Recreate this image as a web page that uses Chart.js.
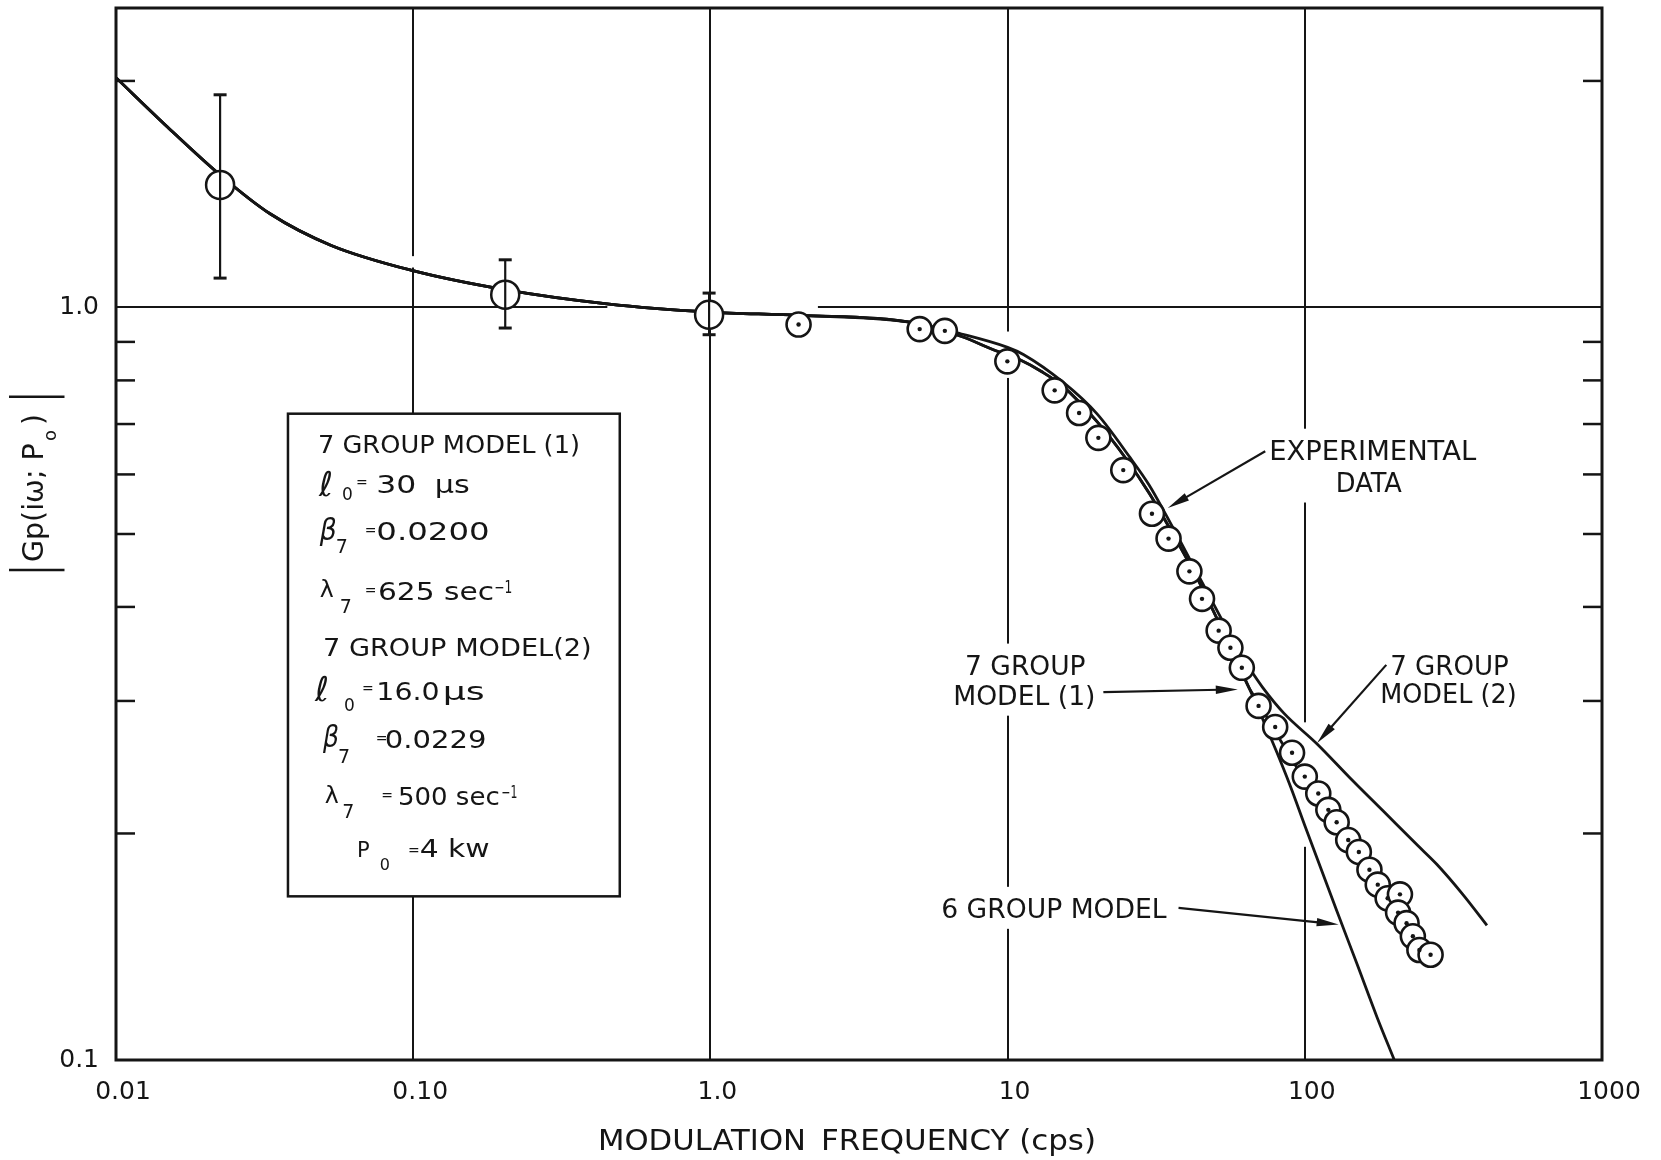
<!DOCTYPE html>
<html>
<head>
<meta charset="utf-8">
<script src="https://cdn.jsdelivr.net/npm/chart.js@4.4.1/dist/chart.umd.min.js"></script>
<style>
  html, body { margin: 0; padding: 0; background: #fff; }
  canvas { display: block; }
</style>
</head>
<body>
<canvas id="c" width="1661" height="1160"></canvas>
<script>
// ---- axes ----
const freqTicks = [0.01, 0.1, 1, 10, 100, 1000];
const freqLabels = ['0.01', '0.10', '1.0', '10', '100', '1000'];
const gainTicks = [0.1, 0.2, 0.3, 0.4, 0.5, 0.6, 0.7, 0.8, 0.9, 1, 2];
const gainLabels = { 0.1: '0.1', 1: '1.0' };

// ---- low-frequency measurements with error bars ----
const errFreq = [0.0224, 0.204, 0.99];
const errGain = [1.455, 1.04, 0.978];
const errHigh = [1.917, 1.157, 1.045];
const errLow  = [1.094, 0.939, 0.920];

// ---- experimental data (dotted circles) ----
const expFreq = [1.98, 5.06, 6.15, 9.98, 14.4, 17.4, 20.2, 24.5, 30.6, 34.8, 40.9, 45.1, 51.3, 56.2, 61.4,
                 69.9, 79.5, 90.6, 100, 111, 120, 128, 140, 152, 165, 176, 190, 209, 206, 220, 231, 243, 265];
const expGain = [0.949, 0.936, 0.931, 0.848, 0.776, 0.724, 0.671, 0.608, 0.532, 0.493, 0.446, 0.41, 0.372, 0.353, 0.332,
                 0.2955, 0.277, 0.256, 0.238, 0.226, 0.215, 0.207, 0.196, 0.189, 0.179, 0.171, 0.164, 0.166, 0.157, 0.152, 0.146, 0.140, 0.138];

// ---- model curves ----
// common low-frequency branch of all three models
const lowFreq = [0.01, 0.0149, 0.0224, 0.033, 0.053, 0.099, 0.203, 0.449, 0.99, 2.0, 4.69];
const lowGain = [2.02, 1.737, 1.50, 1.332, 1.209, 1.12, 1.056, 1.011, 0.986, 0.976, 0.956];

// 7 group model (2)
const model2Freq = [7, 10, 11.3, 15.4, 20, 25.8, 30, 34.3, 38.1, 45, 52, 58, 65, 72, 85, 110, 142, 184, 239, 278, 340, 410];
const model2Gain = [0.922, 0.885, 0.866, 0.795, 0.722, 0.632, 0.58, 0.528, 0.489, 0.432, 0.388, 0.357, 0.332, 0.313, 0.289, 0.263, 0.237, 0.214, 0.193, 0.182, 0.166, 0.151];

// branch shared by 7 group model (1) and the 6 group model up to ~65 cps
const sharedFreq = [7, 9, 11, 13, 15.4, 20, 25, 30, 35, 40, 45, 50, 55, 60, 65];
const sharedGain = [0.915, 0.878, 0.852, 0.822, 0.785, 0.705, 0.63, 0.566, 0.51, 0.464, 0.425, 0.39, 0.36, 0.334, 0.312];

// 7 group model (1), high-frequency part
const model1Freq = [70, 80, 90, 100, 112, 122, 142, 165, 190, 220, 245, 265];
const model1Gain = [0.298, 0.272, 0.252, 0.235, 0.221, 0.211, 0.194, 0.178, 0.164, 0.151, 0.143, 0.138];

// 6 group model, high-frequency part
const sixFreq = [71, 80, 89.3, 100, 128, 150, 175, 200];
const sixGain = [0.288, 0.258, 0.2315, 0.205, 0.158, 0.134, 0.114, 0.1];

// ---- drawing ----
const INK = '#151515';
const FONT = '"DejaVu Sans", "Liberation Sans", sans-serif';

const pts = (fs, gs) => fs.map((f, i) => ({ x: f, y: gs[i] }));
const curve = (label, data, order) => ({
  label, data, showLine: true, fill: false, order,
  borderColor: INK, borderWidth: 2.8, pointRadius: 0,
  cubicInterpolationMode: 'monotone'
});

// annotation labels, anchored in data space (left edge, baseline) with their lettered widths
const notes = [
  { lines: [['EXPERIMENTAL', 75.9, 0.6276, 207], ['DATA', 127.2, 0.5694, 66]],
    arrow: [73.6, 0.644, 34.6, 0.5415] },
  { lines: [['7 GROUP', 7.19, 0.3252, 120.6], ['MODEL (1)', 6.56, 0.2966, 142.3]],
    arrow: [21.0, 0.3083, 59.5, 0.3108] },
  { lines: [['7 GROUP', 193.7, 0.3252, 118.7], ['MODEL (2)', 179.4, 0.2981, 136.4]],
    arrow: [188, 0.335, 110, 0.2638] },
  { lines: [['6 GROUP MODEL', 5.98, 0.1545, 225.4]],
    arrow: [37.6, 0.1593, 130, 0.1514] }
];

// places where the grid is left open near the curves
const gridBreaks = [
  { axis: 'y', at: 1, from: 0.45, to: 2.3 },
  { axis: 'x', at: 10, from: 0.806, to: 0.929 },
  { axis: 'x', at: 100, from: 0.192, to: 0.281 },
  { axis: 'x', at: 0.1, from: 1.13, to: 1.17 }
];

// parameter box corners (data space) and its text runs:
// [text, dx, baseline dy, size, width, italic]
const paramBox = { f1: 0.0379, g1: 0.7225, f2: 0.4955, g2: 0.165 };
const boxRuns = [
  ['7 GROUP MODEL (1)', 30, 39.3, 25, 262],
  ['ℓ', 31, 82, 34, 0, true],
  ['0', 54, 86, 17],
  ['=', 68, 73.3, 14],
  ['30', 88.4, 79.3, 25, 40],
  ['μs', 146.7, 79.3, 25, 35],
  ['β', 31.7, 126.2, 30, 17, true],
  ['7', 47.7, 139.3, 19],
  ['=', 76.7, 121, 14],
  ['0.0200', 88.4, 126, 25, 113.3],
  ['λ', 31.7, 183, 23, 14],
  ['7', 51.7, 199.3, 19],
  ['=', 76.7, 181, 14],
  ['625 sec', 90, 186, 25, 116],
  ['−1', 206.4, 179.3, 17, 18],
  ['7 GROUP MODEL(2)', 35, 242.7, 25, 268.7],
  ['ℓ', 27, 287, 34, 0, true],
  ['0', 56, 297, 17],
  ['=', 74, 279.3, 14],
  ['16.0', 88.4, 286, 25, 63.3],
  ['μs', 154.7, 286, 25, 42],
  ['β', 35, 333, 30, 16, true],
  ['7', 50, 349.3, 19],
  ['=', 87.7, 329.3, 14],
  ['0.0229', 96.7, 334, 25, 101.7],
  ['λ', 36.7, 389.3, 23, 14],
  ['7', 54.4, 404, 19],
  ['=', 93.4, 386, 14],
  ['500 sec', 110, 391, 25, 101.7],
  ['−1', 213.4, 384.3, 17, 16],
  ['P', 69, 443.3, 21],
  ['0', 91.7, 456, 16],
  ['=', 120, 441, 14],
  ['4 kw', 131.7, 443, 25, 70]
];

// lettering: a run is widened or narrowed horizontally to its lettered width
function drawText(ctx, s, x, y, size, width, italic) {
  ctx.save();
  ctx.font = (italic ? 'italic ' : '') + size + 'px ' + FONT;
  ctx.fillStyle = INK;
  ctx.textAlign = 'left';
  ctx.textBaseline = 'alphabetic';
  ctx.translate(x, y);
  if (width) {
    const nat = ctx.measureText(s).width;
    if (nat > 0) ctx.scale(width / nat, 1);
  }
  ctx.fillText(s, 0, 0);
  ctx.restore();
}

function seg(ctx, x1, y1, x2, y2) {
  ctx.beginPath(); ctx.moveTo(x1, y1); ctx.lineTo(x2, y2); ctx.stroke();
}

function arrow(ctx, x1, y1, x2, y2) {
  const a = Math.atan2(y2 - y1, x2 - x1), L = 22, W = 4.2;
  const bx = x2 - L * Math.cos(a), by = y2 - L * Math.sin(a);
  ctx.lineWidth = 2.2;
  seg(ctx, x1, y1, bx + 4 * Math.cos(a), by + 4 * Math.sin(a));
  ctx.beginPath();
  ctx.moveTo(x2, y2);
  ctx.lineTo(bx + W * Math.sin(a), by - W * Math.cos(a));
  ctx.lineTo(bx - W * Math.sin(a), by + W * Math.cos(a));
  ctx.closePath();
  ctx.fill();
}

const paperPlugin = {
  id: 'paper',
  beforeDatasetsDraw(chart) {
    const { ctx, chartArea: a, scales: { x, y } } = chart;
    ctx.save();
    // open the grid where curves cross it
    ctx.fillStyle = '#fff';
    for (const b of gridBreaks) {
      if (b.axis === 'y') {
        const py = y.getPixelForValue(b.at);
        const x1 = x.getPixelForValue(b.from), x2 = x.getPixelForValue(b.to);
        ctx.fillRect(x1, py - 3, x2 - x1, 6);
      } else {
        const px = x.getPixelForValue(b.at);
        const y1 = y.getPixelForValue(b.to), y2 = y.getPixelForValue(b.from);
        ctx.fillRect(px - 3, y1, 6, y2 - y1);
      }
    }
    // inward minor ticks on both vertical edges
    ctx.strokeStyle = INK;
    ctx.lineWidth = 2.5;
    for (const v of gainTicks) {
      if (gainLabels[v]) continue;
      const py = y.getPixelForValue(v);
      seg(ctx, a.left, py, a.left + 19, py);
      seg(ctx, a.right - 19, py, a.right, py);
    }
    // parameter box
    const bx1 = x.getPixelForValue(paramBox.f1), by1 = y.getPixelForValue(paramBox.g1);
    const bx2 = x.getPixelForValue(paramBox.f2), by2 = y.getPixelForValue(paramBox.g2);
    ctx.fillStyle = '#fff';
    ctx.fillRect(bx1, by1, bx2 - bx1, by2 - by1);
    ctx.lineWidth = 2.5;
    ctx.strokeRect(bx1, by1, bx2 - bx1, by2 - by1);
    for (const r of boxRuns) drawText(ctx, r[0], bx1 + r[1], by1 + r[2], r[3], r[4], r[5]);
    // curve labels on a cleared ground
    for (const n of notes) {
      const rows = n.lines.map(l => ({ t: l[0], px: x.getPixelForValue(l[1]), py: y.getPixelForValue(l[2]), w: l[3] }));
      const left = Math.min(...rows.map(r => r.px)) - 10;
      const right = Math.max(...rows.map(r => r.px + r.w)) + 10;
      const top = Math.min(...rows.map(r => r.py)) - 31;
      const bottom = Math.max(...rows.map(r => r.py)) + 11;
      ctx.fillStyle = '#fff';
      ctx.fillRect(left, top, right - left, bottom - top);
      for (const r of rows) drawText(ctx, r.t, r.px, r.py, 27, r.w);
    }
    ctx.restore();
  },
  afterDatasetsDraw(chart) {
    const { ctx, chartArea: a, scales: { x, y } } = chart;
    ctx.save();
    ctx.strokeStyle = INK;
    ctx.fillStyle = INK;
    // error bars
    errFreq.forEach((f, i) => {
      const px = x.getPixelForValue(f);
      const ph = y.getPixelForValue(errHigh[i]), pl = y.getPixelForValue(errLow[i]);
      ctx.lineWidth = 2.2;
      seg(ctx, px, ph, px, pl);
      ctx.lineWidth = 3;
      seg(ctx, px - 6.5, ph, px + 6.5, ph);
      seg(ctx, px - 6.5, pl, px + 6.5, pl);
    });
    // pointer arrows
    for (const n of notes) {
      const [f1, g1, f2, g2] = n.arrow;
      arrow(ctx, x.getPixelForValue(f1), y.getPixelForValue(g1), x.getPixelForValue(f2), y.getPixelForValue(g2));
    }
    // plot frame
    ctx.lineWidth = 3;
    ctx.strokeRect(a.left, a.top, a.right - a.left, a.bottom - a.top);
    ctx.restore();
  },
  afterDraw(chart) {
    const { ctx, chartArea: a } = chart;
    // horizontal axis title
    drawText(ctx, 'MODULATION', a.left + 482, a.bottom + 90, 29, 208);
    drawText(ctx, 'FREQUENCY (cps)', a.left + 705, a.bottom + 90, 29, 275);
    // vertical axis title |Gp(iω; P0)|
    ctx.save();
    ctx.translate(a.left - 73, a.top + 554);
    ctx.rotate(-Math.PI / 2);
    drawText(ctx, 'Gp(iω; P', 0, 0, 28, 118.7);
    drawText(ctx, 'o', 121, 13, 18);
    drawText(ctx, ')', 137, 0, 28);
    ctx.fillStyle = INK;
    ctx.font = '28px ' + FONT;
    ctx.textAlign = 'center';
    ctx.scale(1, 2);
    ctx.fillText('|', -8, 4);
    ctx.fillText('|', 165.3, 4);
    ctx.restore();
  }
};

Chart.defaults.font.family = FONT;
Chart.defaults.color = INK;

new Chart(document.getElementById('c'), {
  type: 'scatter',
  data: {
    datasets: [
      curve('7 group model (2)', pts(lowFreq.concat(model2Freq), lowGain.concat(model2Gain)), 10),
      curve('7 group model (1)', pts(lowFreq.concat(sharedFreq, model1Freq), lowGain.concat(sharedGain, model1Gain)), 9),
      curve('6 group model', pts(lowFreq.concat(sharedFreq, sixFreq), lowGain.concat(sharedGain, sixGain)), 8),
      {
        label: 'measured (error bars)', data: pts(errFreq, errGain), order: 3,
        pointRadius: 14, pointBorderWidth: 2.5, pointBackgroundColor: '#fff', pointBorderColor: INK
      },
      {
        label: 'experimental data', data: pts(expFreq, expGain), order: 2,
        pointRadius: 12, pointBorderWidth: 2.6, pointBackgroundColor: '#fff', pointBorderColor: INK
      },
      {
        label: 'experimental data (centres)', data: pts(expFreq, expGain), order: 1,
        pointRadius: 2.2, pointBorderWidth: 0, pointBackgroundColor: INK
      }
    ]
  },
  options: {
    responsive: false,
    animation: false,
    events: [],
    devicePixelRatio: 1,
    layout: { autoPadding: false, padding: { top: 8, right: 59, left: 0, bottom: 0 } },
    plugins: { legend: { display: false }, tooltip: { enabled: false } },
    scales: {
      x: {
        type: 'logarithmic', position: 'bottom', min: 0.01, max: 1000,
        afterBuildTicks: s => { s.ticks = freqTicks.map(v => ({ value: v })); },
        afterFit: s => { s.height = 100; s.paddingLeft = 0; s.paddingRight = 0; },
        grid: { color: INK, lineWidth: 2, drawTicks: false },
        border: { display: false },
        ticks: {
          autoSkip: false, maxRotation: 0, padding: 17, labelOffset: 7,
          font: { size: 25 }, color: INK,
          callback: (v, i) => freqLabels[i]
        },
        title: { display: false }
      },
      y: {
        type: 'logarithmic', position: 'left', min: 0.1, max: 2.5,
        afterBuildTicks: s => { s.ticks = gainTicks.map(v => ({ value: v })); },
        afterFit: s => { s.width = 116; s.paddingTop = 0; s.paddingBottom = 0; },
        grid: {
          lineWidth: 2, drawTicks: false,
          color: c => (c.tick && c.tick.value === 1) ? INK : 'rgba(0,0,0,0)'
        },
        border: { display: false },
        ticks: {
          autoSkip: false, padding: 17, font: { size: 25 }, color: INK,
          callback: v => gainLabels[v] || ''
        },
        title: { display: false }
      }
    }
  },
  plugins: [paperPlugin]
});
</script>
</body>
</html>
